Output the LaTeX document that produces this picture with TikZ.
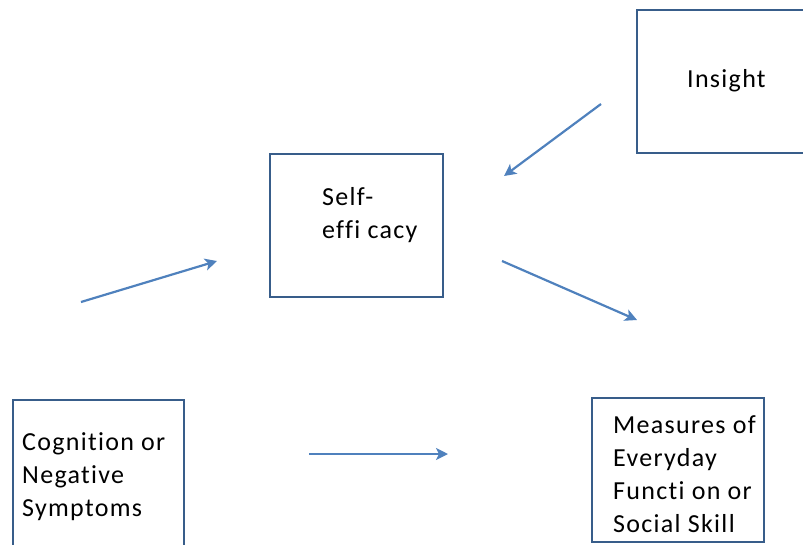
\documentclass[tikz,border=0pt]{standalone}
\usepackage{fontspec}
\setmainfont[LetterSpace=5,Ligatures=NoCommon]{Carlito}
\usetikzlibrary{arrows.meta}
\definecolor{boxline}{RGB}{56,93,138}
\definecolor{arrowblue}{RGB}{79,129,189}
\tikzset{
  x=1pt,y=-1pt,
  frame/.style={draw=boxline,line width=1.8pt,inner sep=0pt},
  label text/.style={inner sep=0pt,anchor=base west,align=left,font=\fontsize{26}{33}\selectfont},
  link/.style={draw=arrowblue,line width=2.2pt,-{Stealth[length=12pt,width=12pt,inset=3pt]}}
}
\begin{document}
\begin{tikzpicture}
\useasboundingbox (0,0) rectangle (803,544);
\clip (0,0) rectangle (803,544);
% boxes
\draw[frame] (637,10) rectangle (830,153) coordinate (insightbox);
\draw[frame] (270,154) rectangle (443,297) coordinate (selfbox);
\draw[frame] (13,400) rectangle (184,560) coordinate (cogbox);
\draw[frame] (592,398) rectangle (764,542) coordinate (measbox);
% texts (anchor = baseline of the last line)
\node[label text] (insight) at (687,87) {Insight};
\node[label text] (self) at (322,238) {Self-\\effi cacy};
\node[label text] (cog) at (22,516) {Cognition or\\Negative\\Symptoms};
\node[label text] (meas) at (613,532) {Measures of\\Everyday\\Functi on or\\Social Skill};
% arrows
\coordinate (a1s) at (601,104); \coordinate (a1e) at (504,176);
\coordinate (a2s) at (81,302);  \coordinate (a2e) at (217,261);
\coordinate (a3s) at (502,261); \coordinate (a3e) at (637,320);
\coordinate (a4s) at (309,454); \coordinate (a4e) at (448,454);
\draw[link] (a1s) -- (a1e);
\draw[link] (a2s) -- (a2e);
\draw[link] (a3s) -- (a3e);
\draw[link] (a4s) -- (a4e);
\end{tikzpicture}
\end{document}
